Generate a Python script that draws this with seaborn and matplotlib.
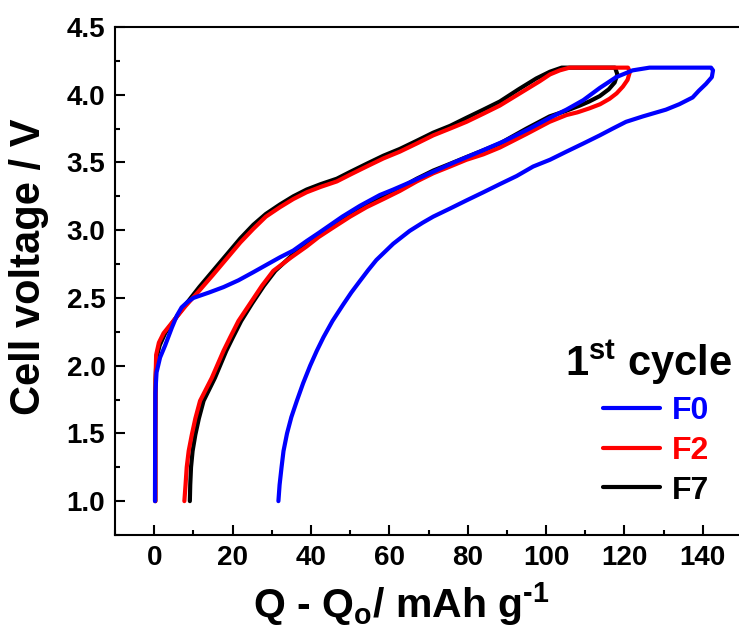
import numpy as np
import pandas as pd
import matplotlib
matplotlib.use("Agg")
import matplotlib.pyplot as plt
import seaborn as sns

# ---- data ----
f0_q = [0.2, 0.25, 0.3, 0.6, 1.5, 2.8, 4.5, 5.8, 7.0, 8.5, 10, 14, 17.7, 21.5, 25.3, 29, 32.1, 35.5, 38.9,
        42, 44, 48, 52.5, 57.6, 61, 65, 70.3, 76.5, 83.1, 89.5, 95.8, 101, 105.2, 109.5, 113.7,
        117.9, 122.1, 126.4, 142.1,
        142.6, 142.3, 140.8, 139, 137.4, 134, 130.6, 124.7, 120.4, 117, 113.7, 109.5, 105.2, 101, 96.7,
        92.5, 88.2, 84, 79.7, 75.5, 71.2, 68.5, 65.2, 61, 56.7, 54.6, 52.5, 50.3, 48.2, 45.5, 43.2, 41.5,
        39.8, 38, 36.4, 35, 33.9, 33, 32.5, 32, 31.7]
f0_v = [1.00, 1.5, 1.80, 1.95, 2.06, 2.15, 2.28, 2.37, 2.43, 2.47, 2.50, 2.54, 2.58, 2.63, 2.69, 2.75, 2.80,
        2.85, 2.92, 2.98, 3.02, 3.10, 3.18, 3.26, 3.30, 3.35, 3.42, 3.50, 3.58, 3.66, 3.75,
        3.83, 3.89, 3.96, 4.05, 4.13, 4.18, 4.2, 4.2,
        4.18, 4.13, 4.08, 4.03, 3.98, 3.93, 3.89, 3.84, 3.80, 3.75, 3.70, 3.64, 3.58, 3.52, 3.47, 3.40,
        3.34, 3.28, 3.22, 3.16, 3.10, 3.055, 2.995, 2.90, 2.78, 2.705, 2.625, 2.54, 2.45, 2.33, 2.21, 2.11,
        2.00, 1.87, 1.74, 1.62, 1.50, 1.37, 1.25, 1.12, 1.00]

f2_q = [0.3, 0.3, 0.35, 0.5, 1.2, 2.4, 4.9, 8, 11.7, 15, 18.5, 22, 25.3, 28.5, 32.1, 35.5, 38.9, 42.5, 46.6,
        50, 54.2, 58.5, 62.7, 67, 71.2, 75.5, 79.7, 84, 88.2, 93.3, 98.4, 101, 103.5, 106, 120.9,
        121.4, 120.8, 119.6, 118, 116.2, 113.8, 111.1, 108, 105.2, 100.9, 95, 88.2, 84, 79.7, 75.5, 71.2,
        67, 62.7, 58.5, 54.2, 50, 45.7, 42, 38.9, 35, 30.4, 27.5, 24.5, 21.5, 19.4, 17.7, 14.7, 11.7,
        10.5, 9.6, 8.8, 8.3, 8.0, 7.7]
f2_v = [1.0, 1.5, 1.9, 2.08, 2.17, 2.24, 2.33, 2.44, 2.56, 2.67, 2.79, 2.91, 3.01, 3.10, 3.17, 3.23, 3.28,
        3.32, 3.36, 3.41, 3.47, 3.53, 3.58, 3.64, 3.70, 3.75, 3.80, 3.86, 3.92, 4.01, 4.10, 4.15, 4.18,
        4.2, 4.2,
        4.17, 4.11, 4.06, 4.01, 3.97, 3.93, 3.90, 3.87, 3.85, 3.80, 3.71, 3.61, 3.56, 3.52, 3.47, 3.42,
        3.36, 3.29, 3.23, 3.17, 3.10, 3.02, 2.95, 2.88, 2.80, 2.70, 2.59, 2.46, 2.33, 2.21, 2.11, 1.91,
        1.74, 1.61, 1.49, 1.37, 1.25, 1.12, 1.0]

f7_q = [0.3, 0.3, 0.35, 0.6, 1.4, 2.8, 5.2, 8, 11.5, 15, 18.5, 22, 25.3, 28.5, 32.1, 35.5, 38.9, 42.5, 46.6,
        50, 54.2, 58.5, 62.7, 67, 71.2, 75.5, 79.7, 84, 88.2, 93, 97.5, 101, 104, 117.6,
        118.2, 117.5, 116, 113.7, 111, 108.6, 105, 100.9, 95, 88.2, 84, 79.7, 75.5, 71.2, 67, 62.7, 58.5,
        54.2, 50, 45.7, 42, 38.9, 35, 30.9, 28, 25, 22.2, 20.1, 18.4, 15.5, 12.6, 11.4, 10.5, 9.8, 9.4,
        9.2, 9.1]
f7_v = [1.0, 1.5, 1.9, 2.06, 2.15, 2.24, 2.34, 2.45, 2.58, 2.70, 2.82, 2.94, 3.04, 3.12, 3.19, 3.25, 3.30,
        3.34, 3.38, 3.43, 3.49, 3.55, 3.60, 3.66, 3.72, 3.77, 3.83, 3.89, 3.95, 4.04, 4.12, 4.17, 4.2,
        4.2,
        4.15, 4.09, 4.04, 3.99, 3.95, 3.92, 3.88, 3.84, 3.75, 3.64, 3.59, 3.54, 3.49, 3.44, 3.38, 3.31,
        3.25, 3.18, 3.11, 3.03, 2.96, 2.89, 2.81, 2.70, 2.59, 2.46, 2.33, 2.21, 2.11, 1.91, 1.74, 1.61,
        1.49, 1.37, 1.25, 1.12, 1.0]

samples = ["F0", "F2", "F7"]
colors = {"F0": "#0000FF", "F2": "#FF0000", "F7": "#000000"}
x_ticks = [0, 20, 40, 60, 80, 100, 120, 140]
y_ticks = [1.0, 1.5, 2.0, 2.5, 3.0, 3.5, 4.0, 4.5]

series = {"F0": (f0_q, f0_v), "F2": (f2_q, f2_v), "F7": (f7_q, f7_v)}
frames = []
for s in samples:
    q, v = series[s]
    frames.append(pd.DataFrame({"Q": q, "V": v, "sample": s, "idx": np.arange(len(q))}))
df = pd.concat(frames, ignore_index=True)

# ---- style ----
sns.set_style("white")
plt.rcParams["font.family"] = ["Liberation Sans", "DejaVu Sans"]
plt.rcParams["font.weight"] = "bold"
plt.rcParams["mathtext.fontset"] = "custom"
plt.rcParams["mathtext.rm"] = "Liberation Sans:bold"
plt.rcParams["mathtext.it"] = "Liberation Sans:bold"
plt.rcParams["mathtext.bf"] = "Liberation Sans:bold"
plt.rcParams["mathtext.default"] = "rm"
for k in ["text.color", "axes.labelcolor", "xtick.color", "ytick.color", "axes.edgecolor"]:
    plt.rcParams[k] = "black"

fig = plt.figure(figsize=(7.39, 6.28), dpi=100)
ax = fig.add_axes([115 / 739, 1 - 535 / 628, (742 - 115) / 739, (535 - 27) / 628])

handles = {}
for s, z in [("F7", 2), ("F2", 3), ("F0", 4)]:
    sns.lineplot(data=df[df["sample"] == s], x="Q", y="V", sort=False, estimator=None,
                 color=colors[s], lw=3, ax=ax, zorder=z, label=s)
    handles[s] = ax.get_lines()[-1]

ax.set_xlim(-10, 150)
ax.set_ylim(0.75, 4.5)
ax.set_xticks(x_ticks)
ax.set_yticks(y_ticks)
ax.set_xticks(np.arange(-10, 151, 10), minor=True)
ax.set_yticks(np.arange(0.75, 4.51, 0.25), minor=True)
ax.set_yticklabels([f"{t:.1f}" for t in y_ticks])
ax.tick_params(axis="both", which="major", direction="in", length=7, width=1.5,
               labelsize=20, pad=7, left=True, bottom=True, colors="black")
ax.tick_params(axis="both", which="minor", direction="in", length=3.6, width=1.5,
               left=True, bottom=True, colors="black")
for lab in ax.get_xticklabels() + ax.get_yticklabels():
    lab.set_fontweight("bold")
for sp in ["left", "bottom", "top"]:
    ax.spines[sp].set_visible(True)
    ax.spines[sp].set_linewidth(1.5)
    ax.spines[sp].set_color("black")
ax.spines["right"].set_visible(False)

ax.set_xlabel("Q - Q$_o$/ mAh g$^{\\text{-1}}$", fontsize=29.5, fontweight="bold")
ax.xaxis.set_label_coords(0.457, -0.088)
ax.set_ylabel("Cell voltage / V", fontsize=30, fontweight="bold")
ax.yaxis.set_label_coords(-0.105, 0.528)

leg = ax.legend([handles["F0"], handles["F2"], handles["F7"]], ["F0", "F2", "F7"],
                frameon=False, fontsize=23,
                loc="lower right", bbox_to_anchor=(716 / 739, 1 - 512 / 628),
                bbox_transform=fig.transFigure, handlelength=1.8, handletextpad=0.37,
                labelspacing=0.3, borderaxespad=0, borderpad=0.2)
for t, s in zip(leg.get_texts(), samples):
    t.set_color(colors[s])
    t.set_fontweight("bold")
for h in leg.legend_handles:
    h.set_linewidth(3)

fig.text(732 / 739, 1 - 362 / 628, "1$^{st}$ cycle", fontsize=30, fontweight="bold",
         ha="right", va="center", color="black")

fig.savefig("out.png", dpi=100)
